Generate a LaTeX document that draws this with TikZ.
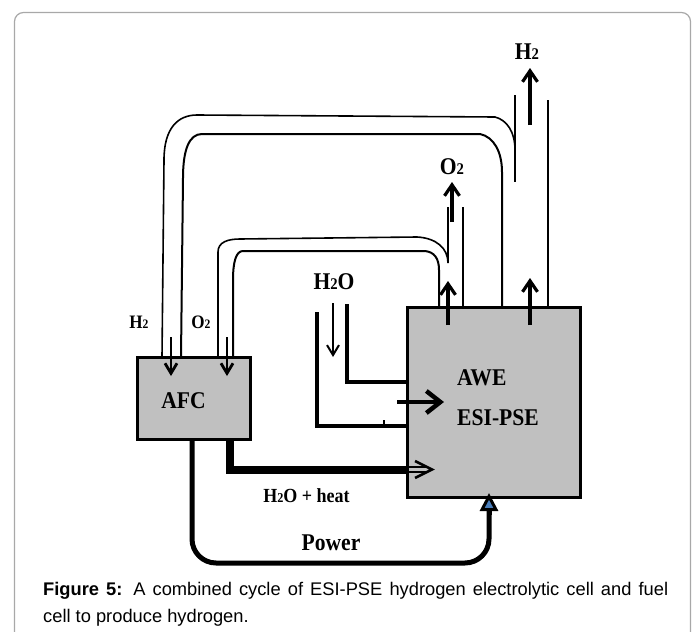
\documentclass[tikz,border=0pt]{standalone}
\usepackage{fontspec}
\setmainfont{Liberation Serif}
\setsansfont{Liberation Sans}
\newfontfamily\labfont[FakeStretch=0.9]{Liberation Serif}
\usepackage{graphicx}
\usetikzlibrary{arrows.meta}
\newcommand{\twosub}{{\scalebox{0.68}{2}}}
\definecolor{boxgray}{HTML}{C0C0C0}
\definecolor{framegray}{HTML}{A8A8A8}
\definecolor{tipblue}{HTML}{4A7EBB}
\tikzset{
  pipe/.style={line width=1.6pt},
  pipein/.style={line width=2pt},
  flowarrow/.style={line width=3.2pt,-{Straight Barb[length=11pt,width=15pt]}},
  smallarrow/.style={line width=2.8pt,-{Straight Barb[length=10pt,width=12pt]}},
  unitbox/.style={draw=black,line width=3pt,fill=boxgray,inner sep=0pt},
  lab/.style={font=\labfont\fontsize{24}{26}\selectfont\bfseries,inner sep=0pt,anchor=base},
  smalllab/.style={font=\labfont\fontsize{19}{21}\selectfont\bfseries,inner sep=0pt,anchor=base},
  feed/.style={line width=3.2pt}
}
\begin{document}
\begin{tikzpicture}[x=1pt,y=-1pt]
\useasboundingbox (0,0) rectangle (697,632);
\clip (0,0) rectangle (697,632);
% frame
\draw[framegray,line width=1.2pt,rounded corners=9pt] (14.5,12.5) rectangle (690.5,680);

% H2 return pipe (ESI-PSE -> AFC)
\draw[pipe] (162,357) -- (164,160) .. controls (164,128) and (178,115) .. (197,115)
  -- (495,117) .. controls (507,120) and (515,132) .. (515,150);
\draw[pipein] (181,357) -- (183,178) .. controls (183,150) and (189,134) .. (202,134)
  -- (480,134) .. controls (494,137) and (502,152) .. (502,172) -- (502,306);
\draw[pipe] (515,95) -- (515,182);
\draw[pipe] (548,100) -- (548,306);

% O2 return pipe
\draw[pipe] (218,357) -- (218,252) .. controls (218,242) and (228,239) .. (240,239)
  -- (417,237) .. controls (436,238) and (448,248) .. (448,263) -- (448,207);
\draw[pipein] (233,357) -- (233,280) .. controls (233,262) and (236,251) .. (243,251)
  -- (425,251) .. controls (434,252) and (439,258) .. (439,270) -- (439,312);
\draw[pipe] (463,207) -- (463,308);

% water feed
\draw[feed] (317,312) -- (317,426) -- (420,426);
\draw[feed] (347,304) -- (347,382) -- (420,382);
\draw[line width=1.2pt] (384,426) -- (384,420);

% AFC -> ESI thick lines
\draw[line width=8pt] (230,430) -- (230,470) -- (410,470);
\draw[line width=5pt,rounded corners=24pt] (192,430) -- (192,563) -- (489,563) -- (489,505);

% boxes
\node[unitbox,minimum width=113pt,minimum height=82pt] (afc) at (193.5,398) {};
\node[unitbox,minimum width=173pt,minimum height=190pt] (esi) at (493.5,402.5) {};

% heat double arrow
\draw[line width=1.5pt] (407,467) -- (428,467);
\draw[line width=1.5pt] (407,472) -- (428,472);
\draw[line width=2.5pt] (415,461) -- (432,469.5) -- (415,478);

% power arrow tip
\draw[line width=5pt,-{Triangle[length=18pt,width=18pt,fill=tipblue,line width=3pt]}] (489,515) -- (489,493);

% arrows
\draw[smallarrow] (171,337) -- (171,376);
\draw[smallarrow] (227,337) -- (227,376);
\draw[line width=2pt,-{Straight Barb[length=10pt,width=12pt]}] (333,303) -- (333,357);
\draw[line width=4.5pt,-{Straight Barb[length=14pt,width=22pt]}] (397,402) -- (444,402);
\draw[flowarrow] (448,325) -- (448,281);
\draw[flowarrow] (530,325) -- (530,278);
\draw[flowarrow] (452,222) -- (452,182);
\draw[flowarrow] (530,125) -- (530,68);

% labels
\node[lab] (h2top) at (527,59) {H\twosub};
\node[lab] (o2top) at (452,174) {O\twosub};
\node[lab] (h2o) at (334,289.5) {H\twosub O};
\node[smalllab] (h2afc) at (139,328) {H\twosub};
\node[smalllab] (o2afc) at (201,328) {O\twosub};
\node[lab] (afclab) at (183.5,408) {AFC};
\node[lab,anchor=base west] (awe) at (457,385) {AWE};
\node[lab,anchor=base west] (esilab) at (457,425) {ESI-PSE};
\node[font=\labfont\fontsize{20}{22}\selectfont\bfseries,inner sep=0pt,anchor=base] (heat) at (306.5,502) {H\twosub O + heat};
\node[lab] (power) at (331,550) {Power};

% caption
\node[anchor=north west,inner sep=0pt,text width=625pt,align=justify,
  font=\sffamily\fontsize{18.3}{27}\selectfont] (cap) at (43,582)
  {\textbf{Figure 5:} A combined cycle of ESI-PSE hydrogen electrolytic cell and fuel\linebreak cell to produce hydrogen.};
\end{tikzpicture}
\end{document}
